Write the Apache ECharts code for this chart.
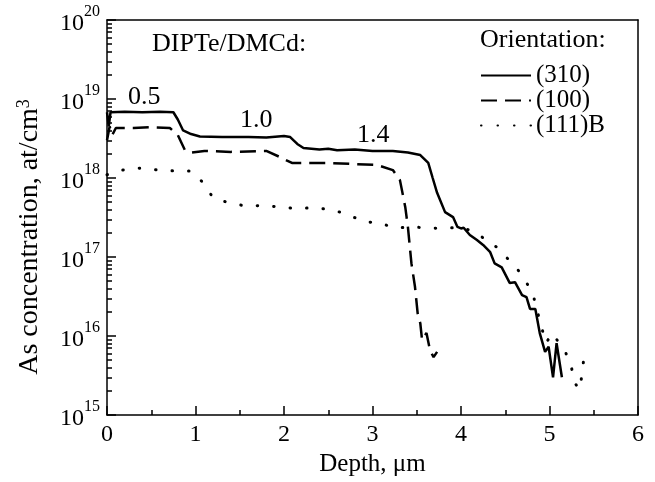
<!DOCTYPE html>
<html>
<head>
<meta charset="utf-8">
<script src="https://cdn.jsdelivr.net/npm/echarts@6/dist/echarts.min.js"></script>
<style>html,body{margin:0;padding:0;background:#fff}#c{width:655px;height:482px}</style>
</head>
<body>
<div id="c"></div>
<script>
// Depth (µm) and As concentration (at/cm3)
var depth310 = [0, 0.02, 0.04, 0.2, 0.4, 0.6, 0.75, 0.8, 0.86, 0.95, 1.05, 1.3, 1.6, 1.8, 2.0, 2.07, 2.15, 2.22, 2.4, 2.5, 2.6, 2.8, 3.0, 3.23, 3.4, 3.54, 3.63, 3.68, 3.73, 3.82, 3.91, 3.96, 4.0, 4.03, 4.1, 4.18, 4.25, 4.33, 4.38, 4.46, 4.55, 4.61, 4.69, 4.74, 4.78, 4.84, 4.89, 4.95, 4.99, 5.04, 5.08, 5.14];
var conc310 = [6.8e18, 4.5e18, 6.8e18, 6.9e18, 6.8e18, 6.9e18, 6.8e18, 5.5e18, 4.0e18, 3.6e18, 3.35e18, 3.3e18, 3.3e18, 3.25e18, 3.4e18, 3.3e18, 2.7e18, 2.4e18, 2.3e18, 2.35e18, 2.25e18, 2.3e18, 2.2e18, 2.2e18, 2.1e18, 1.95e18, 1.55e18, 1.0e18, 6.5e17, 3.7e17, 3.2e17, 2.4e17, 2.3e17, 2.35e17, 1.9e17, 1.64e17, 1.42e17, 1.15e17, 8.3e16, 7.4e16, 4.7e16, 4.8e16, 3.3e16, 3.1e16, 2.2e16, 2.2e16, 1.09e16, 6.3e15, 7.3e15, 3.0e15, 8.1e15, 3.0e15];

var depth100 = [0, 0.03, 0.06, 0.1, 0.3, 0.5, 0.71, 0.8, 0.88, 0.95, 1.1, 1.4, 1.8, 1.95, 2.09, 2.5, 3.05, 3.23, 3.31, 3.37, 3.40, 3.44, 3.48, 3.51, 3.54, 3.56, 3.61, 3.65, 3.69, 3.73];
var conc100 = [3.0e18, 4.5e18, 3.5e18, 4.3e18, 4.3e18, 4.4e18, 4.3e18, 3.5e18, 2.26e18, 2.1e18, 2.2e18, 2.14e18, 2.2e18, 1.85e18, 1.55e18, 1.55e18, 1.46e18, 1.26e18, 9.4e17, 4.3e17, 2.4e17, 8.3e16, 4.2e16, 1.95e16, 1.45e16, 8.9e15, 1.09e16, 6.6e15, 5.4e15, 6.3e15];

var depth111B = [0, 0.17, 0.39, 0.6, 0.75, 0.94, 1.08, 1.2, 1.39, 1.58, 1.76, 1.95, 2.14, 2.33, 2.52, 2.71, 2.9, 3.08, 3.25, 3.45, 3.63, 3.82, 4.0, 4.18, 4.31, 4.42, 4.52, 4.59, 4.70, 4.81, 4.86, 4.91, 4.96, 5.03, 5.18, 5.25, 5.29, 5.34, 5.37, 5.39];
var conc111B = [1.1e18, 1.26e18, 1.34e18, 1.25e18, 1.23e18, 1.23e18, 8.9e17, 5.6e17, 4.8e17, 4.4e17, 4.5e17, 4.3e17, 4.1e17, 4.2e17, 4.0e17, 3.5e17, 2.8e17, 2.7e17, 2.33e17, 2.4e17, 2.33e17, 2.3e17, 2.4e17, 2.0e17, 1.55e17, 1.3e17, 9.7e16, 8.3e16, 5.6e16, 3.5e16, 2.1e16, 1.3e16, 8.1e15, 1.09e16, 6.3e15, 3.9e15, 2.5e15, 2.1e15, 3.4e15, 5.6e15];

var seriesNames = ['(310)', '(100)', '(111)B'];
var xTicks = [0, 1, 2, 3, 4, 5, 6];
var yExponents = [15, 16, 17, 18, 19, 20];

function pairs(xs, ys) { return xs.map(function (x, i) { return [x, ys[i]]; }); }

// log minor tick positions (exponent space)
var minorExp = [];
for (var d = 15; d < 20; d++) { for (var k = 2; k <= 9; k++) { minorExp.push(d + Math.log10(k)); } }
var xMinor = [0.5, 1.5, 2.5, 3.5, 4.5, 5.5];

var FONT = 'Liberation Serif';
var BLACK = '#000';
var chart = echarts.init(document.getElementById('c'));
chart.setOption({
  animation: false,
  backgroundColor: '#fff',
  grid: { left: 107, right: 17, top: 20, bottom: 67 },
  xAxis: [{
    type: 'value', min: 0, max: 6, interval: 1, position: 'bottom',
    name: 'Depth, μm', nameLocation: 'middle', nameGap: 35,
    nameTextStyle: { fontFamily: FONT, fontSize: 25, color: BLACK },
    axisLine: { show: true, onZero: false, lineStyle: { color: BLACK, width: 1.5 } },
    axisTick: { show: true, inside: true, length: 9, lineStyle: { color: BLACK, width: 1.5 } },
    axisLabel: { fontFamily: FONT, fontSize: 24, color: BLACK, margin: 8 },
    splitLine: { show: false }
  }, {
    type: 'value', min: 0, max: 6, position: 'bottom',
    axisLine: { show: false, onZero: false },
    axisTick: { show: true, inside: true, length: 5, customValues: xMinor, lineStyle: { color: BLACK, width: 1.5 } },
    axisLabel: { show: false }, splitLine: { show: false }
  }, {
    type: 'value', min: 0, max: 6, position: 'top',
    axisLine: { show: true, onZero: false, lineStyle: { color: BLACK, width: 1.5 } },
    axisTick: { show: false }, axisLabel: { show: false }, splitLine: { show: false }
  }],
  yAxis: [{
    type: 'log', logBase: 10, min: 1e15, max: 1e20, position: 'left',
    axisLine: { show: true, onZero: false, lineStyle: { color: BLACK, width: 1.5 } },
    axisTick: { show: true, inside: true, length: 9, lineStyle: { color: BLACK, width: 1.5 } },
    axisLabel: {
      margin: 7,
      formatter: function (v) { return '{b|10}{s|' + Math.round(Math.log10(v)) + '}'; },
      rich: {
        b: { fontFamily: FONT, fontSize: 24, color: BLACK, verticalAlign: 'bottom', lineHeight: 32 },
        s: { fontFamily: FONT, fontSize: 16, color: BLACK, verticalAlign: 'top', lineHeight: 32 }
      }
    },
    splitLine: { show: false }
  }, {
    type: 'value', min: 15, max: 20, position: 'left',
    axisLine: { show: false, onZero: false },
    axisLabel: { show: false },
    splitLine: { show: false },
    axisTick: { show: true, inside: true, length: 5, customValues: minorExp, lineStyle: { color: BLACK, width: 1.5 } }
  }, {
    type: 'value', min: 15, max: 20, position: 'right',
    axisLine: { show: true, onZero: false, lineStyle: { color: BLACK, width: 1.5 } },
    axisTick: { show: false }, axisLabel: { show: false }, splitLine: { show: false }
  }],
  legend: {
    left: 475, top: 58, orient: 'vertical', itemWidth: 50, itemHeight: 14, itemGap: 0, icon: 'inherit',
    data: seriesNames,
    itemStyle: { opacity: 0 },
    textStyle: { fontFamily: FONT, fontSize: 25, color: BLACK, lineHeight: 25 }
  },
  graphic: [
    { type: 'text', x: 30, y: 237, rotation: Math.PI / 2,
      style: { text: 'As concentration, at/cm{s|3}', fontFamily: FONT, fontSize: 28, fill: BLACK, align: 'center', verticalAlign: 'middle',
        rich: { s: { fontFamily: FONT, fontSize: 18, fill: BLACK, verticalAlign: 'top', lineHeight: 30 } } } },
    { type: 'text', left: 480, top: 27, style: { text: 'Orientation:', font: '26px "Liberation Serif"', fill: BLACK } },
    { type: 'text', left: 152, top: 31, style: { text: 'DIPTe/DMCd:', font: '26px "Liberation Serif"', fill: BLACK } },
    { type: 'text', left: 128, top: 84, style: { text: '0.5', font: '26px "Liberation Serif"', fill: BLACK } },
    { type: 'text', left: 240, top: 107, style: { text: '1.0', font: '26px "Liberation Serif"', fill: BLACK } },
    { type: 'text', left: 357, top: 122, style: { text: '1.4', font: '26px "Liberation Serif"', fill: BLACK } }
  ],
  series: [
    { name: seriesNames[0], type: 'line', data: pairs(depth310, conc310), showSymbol: false, symbol: 'none',
      lineStyle: { color: BLACK, width: 2.5, type: 'solid' }, itemStyle: { color: BLACK } },
    { name: seriesNames[1], type: 'line', data: pairs(depth100, conc100), showSymbol: false, symbol: 'none',
      lineStyle: { color: BLACK, width: 2.5, type: [16, 8] }, itemStyle: { color: BLACK } },
    { name: seriesNames[2], type: 'line', data: pairs(depth111B, conc111B), showSymbol: false, symbol: 'none',
      lineStyle: { color: BLACK, width: 3, type: [0.5, 16], cap: 'round' }, itemStyle: { color: BLACK } }
  ]
});
</script>
</body>
</html>
